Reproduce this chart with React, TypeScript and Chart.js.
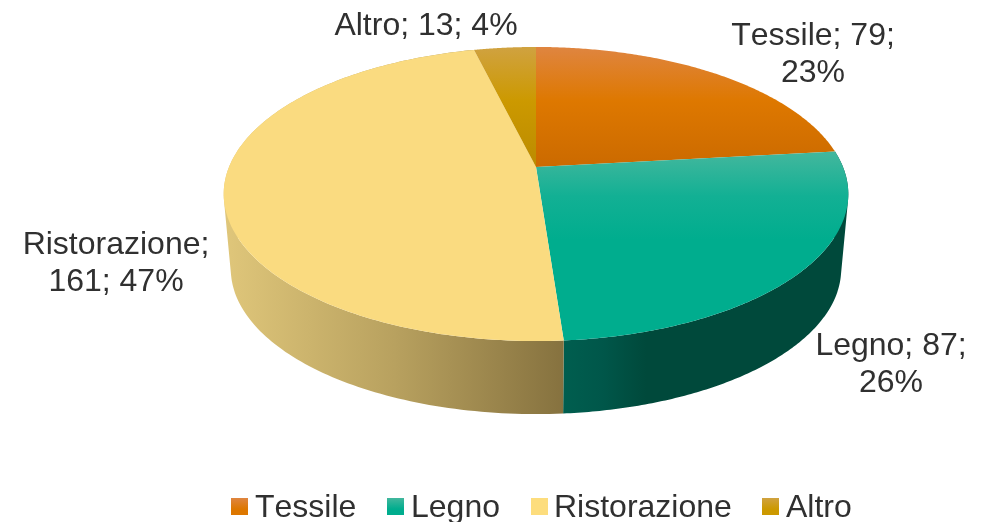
import React, { useEffect, useRef } from "react";
import { Chart, registerables } from "chart.js";

Chart.register(...registerables);

const categories = ["Tessile", "Legno", "Ristorazione", "Altro"];
const values = [79, 87, 161, 13];
const sliceColors = ["#dd7700", "#00ad8e", "#fadb80", "#cc9900"];

const FONT = '32px "Liberation Sans", Arial, sans-serif';
const TEXT = "#303030";

// Perspective projection of the unit disc: top face and lower rim
const cx = 536;
const persp = -0.1837;
const topY0 = 167, topA = 111.4, topD = 307;
const botY0 = 242.4, botA = 95.6, botD = 300;

const project = (angle: number, y0: number, a: number, d: number) => {
  const u = Math.cos(angle), v = Math.sin(angle);
  const den = 1 + persp * v;
  return { x: cx + (d * u) / den, y: (y0 + a * v) / den };
};
const topPt = (t: number) => project(t, topY0, topA, topD);
const botPt = (t: number) => project(t, botY0, botA, botD);

const topStops: [number, number, [number, string][]][] = [
  [47, 167, [[0, "#df8540"], [0.45, "#de7800"], [1, "#cb6a00"]]],
  [153, 240, [[0, "#42b79d"], [0.5, "#12b094"], [1, "#00ad8e"]]],
  [47, 341, [[0, "#fadb80"], [1, "#fadb80"]]],
  [47, 167, [[0, "#d0a240"], [0.45, "#cc9900"], [1, "#bb8b00"]]],
];
const wallStops: ([number, number, [number, string][]] | null)[] = [
  null,
  [563, 840, [[0, "#005e4f"], [0.14, "#00574a"], [0.3, "#00493b"], [1, "#00493b"]]],
  [226, 563, [[0, "#dfc67a"], [0.5, "#b8a15f"], [1, "#86723f"]]],
  null,
];

const labelPos: [number, number, string[]][] = [
  [813, 45, ["{c}; {v};", "{p}%"]],
  [891, 355, ["{c}; {v};", "{p}%"]],
  [116, 254, ["{c};", "{v}; {p}%"]],
  [426, 35, ["{c}; {v}; {p}%"]],
];

const legendPos: [number, number][] = [[231, 255], [387, 411], [531, 554], [762, 786]];

const linear = (ctx: CanvasRenderingContext2D, horiz: boolean, a: number, b: number, stops: [number, string][]) => {
  const g = horiz ? ctx.createLinearGradient(a, 0, b, 0) : ctx.createLinearGradient(0, a, 0, b);
  stops.forEach(([o, c]) => g.addColorStop(o, c));
  return g;
};

const pie3d = {
  id: "pie3d",
  beforeDatasetsDraw(chart: any) {
    const ctx: CanvasRenderingContext2D = chart.ctx;
    const arcs = chart.getDatasetMeta(0).data;
    const steps = 160;
    ctx.save();
    // side walls: strips with the same winding in one path, so their union fills without seams
    arcs.forEach((arc: any, i: number) => {
      const w = wallStops[i];
      if (!w) return;
      const s = arc.startAngle, e = arc.endAngle;
      ctx.beginPath();
      for (let k = 0; k < steps; k++) {
        const a0 = s + ((e - s) * k) / steps;
        const a1 = s + ((e - s) * (k + 1)) / steps;
        const quad = [topPt(a0), topPt(a1), botPt(a1), botPt(a0)];
        let area = 0;
        quad.forEach((p, n) => {
          const q = quad[(n + 1) % 4];
          area += p.x * q.y - q.x * p.y;
        });
        if (area < 0) quad.reverse();
        quad.forEach((p, n) => (n ? ctx.lineTo(p.x, p.y) : ctx.moveTo(p.x, p.y)));
        ctx.closePath();
      }
      ctx.fillStyle = linear(ctx, true, w[0], w[1], w[2]);
      ctx.fill("nonzero");
    });
    // top face
    arcs.forEach((arc: any, i: number) => {
      const s = arc.startAngle, e = arc.endAngle;
      const t = topStops[i];
      ctx.beginPath();
      ctx.moveTo(cx, topY0);
      for (let k = 0; k <= steps; k++) {
        const p = topPt(s + ((e - s) * k) / steps);
        ctx.lineTo(p.x, p.y);
      }
      ctx.closePath();
      ctx.fillStyle = linear(ctx, false, t[0], t[1], t[2]);
      ctx.fill();
    });
    // data labels
    const total = values.reduce((a, b) => a + b, 0);
    ctx.font = FONT;
    (ctx as any).fontKerning = "none";
    ctx.fillStyle = TEXT;
    ctx.textAlign = "center";
    ctx.textBaseline = "alphabetic";
    labelPos.forEach(([x, y, lines], i) => {
      lines.forEach((ln, j) => {
        const s = ln
          .replace("{c}", categories[i])
          .replace("{v}", String(values[i]))
          .replace("{p}", String(Math.round((values[i] / total) * 100)));
        ctx.fillText(s, x, y + j * 37);
      });
    });
    // legend
    ctx.textAlign = "left";
    categories.forEach((c, i) => {
      const [bx, tx] = legendPos[i];
      const t = topStops[i];
      const stops: [number, string][] = i === 2 ? [[0, "#fddd7d"], [1, "#fddd7d"]] : [[0, t[2][0][1]], [0.65, sliceColors[i]], [1, sliceColors[i]]];
      ctx.fillStyle = linear(ctx, false, 498, 515, stops);
      ctx.fillRect(bx, 498, 17, 17);
      ctx.fillStyle = TEXT;
      ctx.fillText(c, tx, 517);
    });
    ctx.restore();
    return false;
  },
};

export default function App() {
  const ref = useRef<HTMLCanvasElement>(null);
  useEffect(() => {
    document.body.style.margin = "0";
    const chart = new Chart(ref.current!, {
      type: "pie",
      data: {
        labels: categories,
        datasets: [{ data: values, backgroundColor: sliceColors, borderWidth: 0 }],
      },
      options: {
        responsive: false,
        animation: false,
        plugins: { legend: { display: false }, tooltip: { enabled: false }, title: { display: false } },
      },
      plugins: [pie3d],
    } as any);
    return () => chart.destroy();
  }, []);
  return <canvas ref={ref} width={984} height={522} style={{ display: "block" }} />;
}
